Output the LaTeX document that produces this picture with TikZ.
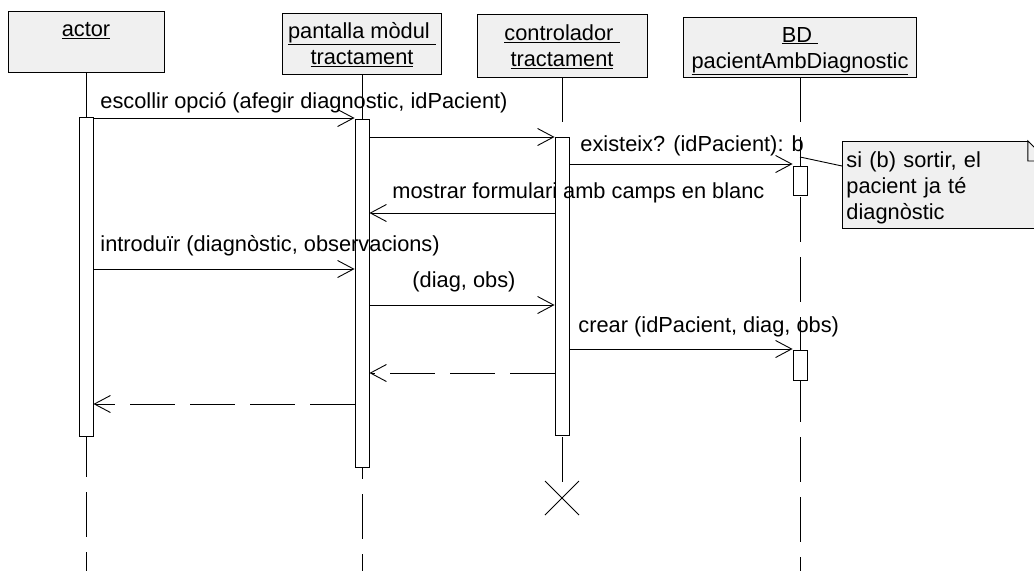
\documentclass[tikz,border=0pt]{standalone}
\usepackage{fontspec}
\setmainfont{Liberation Sans}
\usetikzlibrary{arrows.meta}

\begin{document}
\begin{tikzpicture}[x=1pt, y=-1pt, line width=0.9pt,
    font=\fontsize{21.8}{26}\selectfont,
    objecte/.style={draw, fill=gray!12, align=center, inner sep=0pt},
    activ/.style={draw, fill=white, minimum width=14pt, inner sep=0pt},
    vida/.style={dash pattern=on 45pt off 15pt},
    missatge/.style={-{Straight Barb[length=16pt, width=17pt]}},
    retorn/.style={missatge, dash pattern=on 45pt off 15pt},
    etiq/.style={anchor=base west, inner sep=0pt}]
    \useasboundingbox (0,0) rectangle (1034,571);
    \clip (0,0) rectangle (1034,571);

    % Objectes
    \node[objecte, minimum width=156pt, minimum height=61pt] (actor) at (86,41.5)
        {\rule{0pt}{24pt}\underline{actor}\\\strut};
    \node[objecte, minimum width=159pt, minimum height=61pt] (pantalla) at (362,43.5)
        {\rule{0pt}{24pt}\underline{pantalla mòdul\ }\\\strut\underline{tractament}};
    \node[objecte, minimum width=170pt, minimum height=63pt] (control) at (562,45.5)
        {\rule{0pt}{24pt}\underline{controlador\ }\\\strut\underline{tractament}};
    \node[objecte, minimum width=233pt, minimum height=60pt] (bd) at (800,47)
        {\rule{0pt}{24pt}\underline{BD\ }\\\strut\underline{pacientAmbDiagnostic}};

    % Linies de vida
    \foreach \o in {actor,pantalla,bd}
        \draw[vida] (\o.south) -- (\o.south |- 0,571);
    \coordinate (fi) at (562,498);
    \draw[vida] (control.south) -- (fi);
    \draw (fi) +(-17,-17) -- +(17,17) (fi) +(-17,17) -- +(17,-17);

    % Activacions
    \node[activ, minimum height=319pt] (aA) at (86,276.5) {};
    \node[activ, minimum height=348pt] (aP) at (362,293) {};
    \node[activ, minimum height=298pt] (aC) at (562,286) {};
    \node[activ, minimum height=29pt] (aB1) at (800,180.5) {};
    \node[activ, minimum height=30pt] (aB2) at (800,365) {};

    % Missatges
    \draw[missatge] (aA.east |- 0,118) -- (aP.west |- 0,118);
    \node[etiq] (m1) at (100,108) {escollir opció (afegir diagnostic, idPacient)};
    \draw[missatge] (aP.east |- 0,137) -- (aC.west |- 0,137);
    \draw[missatge] (aC.east |- 0,164) -- (aB1.west |- 0,164);
    \node[etiq] (m2) at (580,151) {existeix? (idPacient): b};
    \draw[missatge] (aC.west |- 0,213) -- (aP.east |- 0,213);
    \node[etiq] (m3) at (392,198) {mostrar formulari amb camps en blanc};
    \draw[missatge] (aA.east |- 0,269) -- (aP.west |- 0,269);
    \node[etiq] (m4) at (100,251) {introduïr (diagnòstic, observacions)};
    \draw[missatge] (aP.east |- 0,305) -- (aC.west |- 0,305);
    \node[etiq] (m5) at (412,287) {(diag, obs)};
    \draw[missatge] (aC.east |- 0,349) -- (aB2.west |- 0,349);
    \node[etiq] (m6) at (578,332) {crear (idPacient, diag, obs)};
    \draw[retorn] (aC.west |- 0,373) -- (aP.east |- 0,373);
    \draw[retorn] (aP.west |- 0,404) -- (aA.east |- 0,404);

    % Nota
    \node[draw, fill=gray!12, anchor=north west, minimum width=205pt, minimum height=81pt,
        text width=197pt, inner sep=4pt, align=left] (nota) at (842,141)
        {\rule{0pt}{22pt}si (b) sortir, el\\pacient ja té\\diagnòstic};
    \fill[white] (nota.north east) +(-20,0) -- (nota.north east) -- +(0,20) -- cycle;
    \draw (nota.north east) +(-20,0) -- +(0,20) -- +(-20,20) -- cycle;
    \coordinate (ancla) at (800,157);
    \draw (ancla) -- (nota.west |- 0,166);
\end{tikzpicture}
\end{document}
